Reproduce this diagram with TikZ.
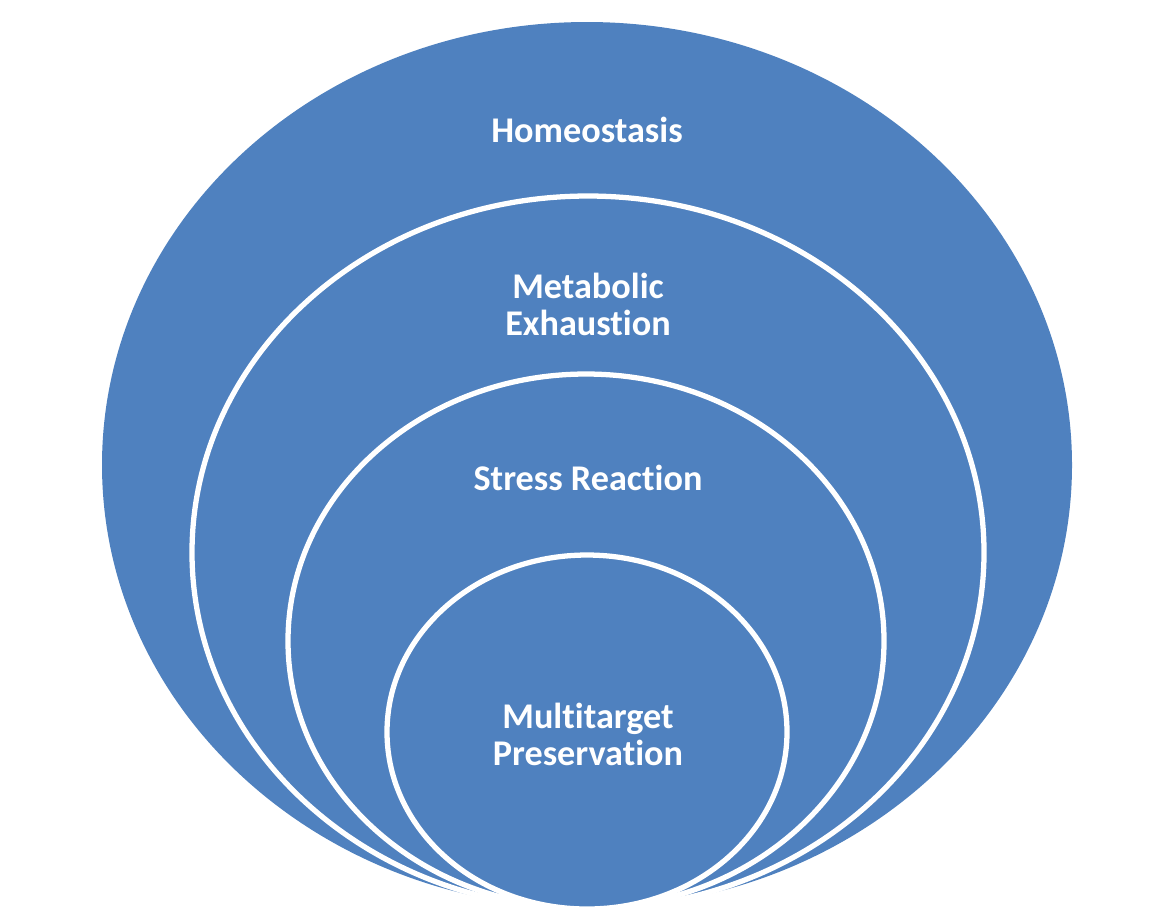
\documentclass[tikz,border=0pt]{standalone}
\usepackage{fontspec}
\setmainfont{Carlito}[Ligatures=NoCommon]
\definecolor{ringblue}{RGB}{79,129,191}
\tikzset{
	ring/.style={fill=ringblue, draw=white, line width=1.5pt},
	ringlabel/.style={text=white, font=\bfseries\fontsize{10.3}{10.5}\selectfont, align=center}
}
\begin{document}
\begin{tikzpicture}
		\useasboundingbox (0, 0) rectangle (11.64, -9.08);
		\clip (0, 0) rectangle (11.64, -9.08);
		% nested rings, all touching at the bottom
		\fill[ringblue] (5.87, -4.65) ellipse [x radius=4.85cm, y radius=4.43cm];
		\draw[ring] (5.88, -5.525) ellipse [x radius=3.96cm, y radius=3.565cm];
		\draw[ring] (5.86, -6.41) ellipse [x radius=2.98cm, y radius=2.67cm];
		\draw[ring] (5.87, -7.32) ellipse [x radius=2.0cm, y radius=1.77cm];
		\node[ringlabel] (homeo) at (5.87, -1.30) {Homeostasis};
		\node[ringlabel] (metab) at (5.88, -3.04) {Metabolic\\Exhaustion};
		\node[ringlabel] (stress) at (5.88, -4.78) {Stress Reaction};
		\node[ringlabel] (multi) at (5.88, -7.34) {Multitarget\\Preservation};
	\end{tikzpicture}
\end{document}
